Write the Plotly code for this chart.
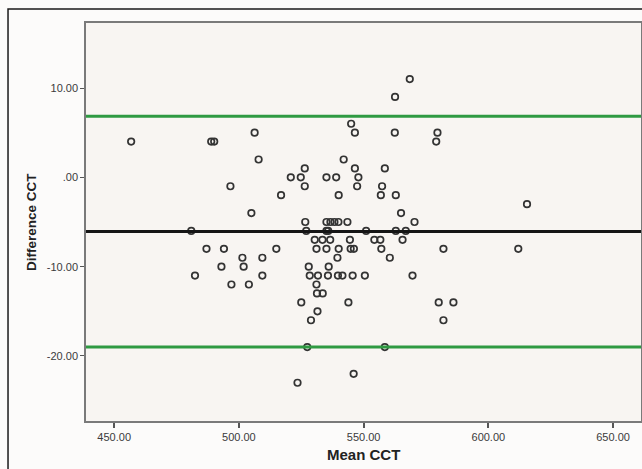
import plotly.graph_objects as go

# Bland-Altman data: mean CCT (x) vs difference CCT (y)
mean_cct = [
    568.5, 562.6, 545.0,
    506.3, 546.5, 562.5, 579.6,
    456.8, 488.9, 490.1, 579.1,
    507.9, 542.0,
    526.4, 546.5, 558.5,
    520.8, 524.8, 535.1, 539.0, 547.9,
    496.6, 526.4, 547.4, 557.4,
    516.9, 540.0, 556.9, 562.9,
    615.5,
    505.0, 565.0,
    526.6, 535.1, 536.7, 538.3, 539.9, 543.5, 570.4,
    480.9, 527.0, 535.1, 535.8, 551.0, 562.9, 566.9,
    530.4, 533.5, 536.6, 544.5, 554.3, 556.7, 565.6,
    487.0, 494.0, 515.0, 531.1, 535.1, 540.0, 544.8, 546.1, 557.1, 582.0, 612.0,
    501.4, 509.4, 539.5, 560.5,
    493.0, 501.9, 528.0, 536.0,
    482.4, 509.4, 528.4, 531.7, 535.7, 539.7, 541.5, 545.6, 550.5, 569.6,
    497.0, 504.0, 531.1,
    531.3, 533.6,
    525.0, 543.9, 580.1, 586.0,
    531.5,
    528.9, 582.0,
    527.4, 558.5,
    546.0,
    523.5,
]
diff_cct = [
    11, 9, 6,
    5, 5, 5, 5,
    4, 4, 4, 4,
    2, 2,
    1, 1, 1,
    0, 0, 0, 0, 0,
    -1, -1, -1, -1,
    -2, -2, -2, -2,
    -3,
    -4, -4,
    -5, -5, -5, -5, -5, -5, -5,
    -6, -6, -6, -6, -6, -6, -6,
    -7, -7, -7, -7, -7, -7, -7,
    -8, -8, -8, -8, -8, -8, -8, -8, -8, -8, -8,
    -9, -9, -9, -9,
    -10, -10, -10, -10,
    -11, -11, -11, -11, -11, -11, -11, -11, -11, -11,
    -12, -12, -12,
    -13, -13,
    -14, -14, -14, -14,
    -15,
    -16, -16,
    -19, -19,
    -22,
    -23,
]

mean_diff = -6.05
upper_loa = 6.85
lower_loa = -19.0

x_ticks = [450, 500, 550, 600, 650]
x_tick_labels = ["450.00", "500.00", "550.00", "600.00", "650.00"]
y_ticks = [10, 0, -10, -20]
y_tick_labels = ["10.00", ".00", "-10.00", "-20.00"]

fig = go.Figure()
fig.add_trace(go.Scatter(
    x=mean_cct, y=diff_cct, mode="markers",
    marker=dict(symbol="circle-open", size=6.5, color="#333333",
                line=dict(width=1.7, color="#333333")),
    hoverinfo="x+y", showlegend=False,
))

for yv, col in [(upper_loa, "#2f9a42"), (lower_loa, "#2f9a42"), (mean_diff, "#151515")]:
    fig.add_shape(type="line", xref="paper", x0=0, x1=1, yref="y", y0=yv, y1=yv,
                  line=dict(color=col, width=3), layer="above")

# outer frame
fig.add_shape(type="rect", xref="paper", yref="paper",
              x0=-0.1405, x1=1.05, y0=-0.3, y1=1.035,
              line=dict(color="#1a1a1a", width=1.5), fillcolor="rgba(0,0,0,0)",
              layer="below")

titlefont = dict(family="Liberation Sans, Arial, sans-serif", color="#222222")
fig.add_annotation(text="<b>Mean CCT</b>", xref="paper", yref="paper",
                   x=0.5, y=-0.083, xanchor="center", yanchor="middle",
                   showarrow=False, font=dict(size=15, **titlefont))
fig.add_annotation(text="<b>Difference CCT</b>", xref="paper", yref="paper",
                   x=-0.099, y=0.5, xanchor="center", yanchor="middle", textangle=-90,
                   showarrow=False, font=dict(size=13.5, **titlefont))

tickfont = dict(family="Liberation Sans, Arial, sans-serif", size=11, color="#3a3a3a")
fig.update_layout(
    width=642, height=469,
    margin=dict(l=86, r=1, t=23, b=48),
    paper_bgcolor="#fcfbfa",
    plot_bgcolor="#f8f5f2",
    xaxis=dict(
        range=[438.7, 661.2], tickvals=x_ticks, ticktext=x_tick_labels,
        showgrid=False, zeroline=False, showline=True, mirror=True,
        linecolor="#7a7a7a", linewidth=1.5, automargin=False,
        ticks="outside", ticklen=5, tickwidth=1.5, tickcolor="#555555",
        tickfont=tickfont,
    ),
    yaxis=dict(
        range=[-27.28, 17.28], tickvals=y_ticks, ticktext=y_tick_labels,
        showgrid=False, zeroline=False, showline=True, mirror=True,
        linecolor="#7a7a7a", linewidth=1.5, automargin=False,
        ticks="outside", ticklen=4, tickwidth=1.2, tickcolor="#555555",
        tickfont=tickfont,
    ),
)

fig.write_html(
    "out.html",
    config={"displayModeBar": False},
    post_script="document.body.style.margin='0';document.body.style.overflow='hidden';",
)
